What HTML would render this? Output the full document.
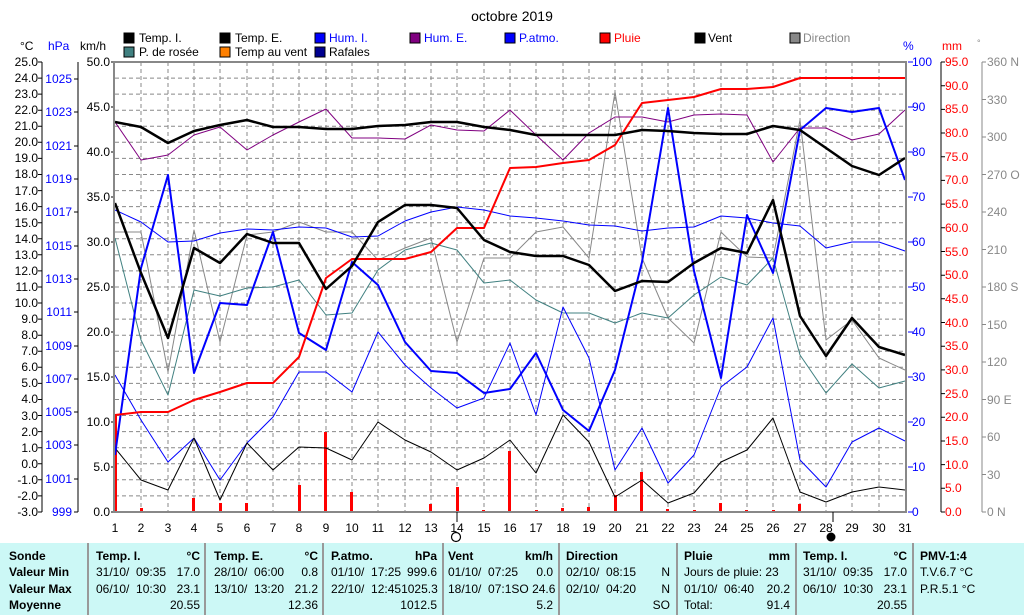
<!DOCTYPE html>
<html><head><meta charset="utf-8">
<style>
html,body{margin:0;padding:0;background:#fff;}
body{width:1024px;height:615px;position:relative;overflow:hidden;font-family:"Liberation Sans",sans-serif;}
svg{position:absolute;left:0;top:0;}
.tbl{position:absolute;left:0;top:543px;width:1024px;height:72px;background:#ccf8f6;}
.col{position:absolute;top:5px;font-size:12px;line-height:16.3px;color:#000;}
.col div{display:flex;justify-content:space-between;white-space:pre;height:16.3px;}
.b{font-weight:bold;}
.sep{position:absolute;top:0;width:2px;height:72px;background:#999;}
</style></head><body>
<svg width="1024" height="543" viewBox="0 0 1024 543" font-family="Liberation Sans, sans-serif" font-size="12">
<text x="512" y="21" text-anchor="middle" font-size="14">octobre 2019</text>
<!-- legend -->
<g font-size="12">
<rect x="124" y="33" width="10" height="10" fill="#000" stroke="#000"/><text x="139" y="42">Temp. I.</text>
<rect x="220" y="33" width="10" height="10" fill="#000" stroke="#000"/><text x="235" y="42">Temp. E.</text>
<rect x="315" y="33" width="10" height="10" fill="#00f" stroke="#000"/><text x="329" y="42" fill="#00f">Hum. I.</text>
<rect x="410" y="33" width="10" height="10" fill="#800080" stroke="#000"/><text x="424" y="42" fill="#00f">Hum. E.</text>
<rect x="505" y="33" width="10" height="10" fill="#00f" stroke="#000"/><text x="519" y="42" fill="#00f">P.atmo.</text>
<rect x="600" y="33" width="10" height="10" fill="#f00" stroke="#000"/><text x="614" y="42" fill="#f00">Pluie</text>
<rect x="695" y="33" width="10" height="10" fill="#000" stroke="#000"/><text x="708" y="42">Vent</text>
<rect x="790" y="33" width="10" height="10" fill="#888" stroke="#000"/><text x="803" y="42" fill="#888">Direction</text>
<rect x="124" y="47" width="10" height="10" fill="#408080" stroke="#000"/><text x="139" y="56">P. de rosée</text>
<rect x="220" y="47" width="10" height="10" fill="#ff8000" stroke="#000"/><text x="235" y="56">Temp au vent</text>
<rect x="315" y="47" width="10" height="10" fill="#000090" stroke="#000"/><text x="329" y="56">Rafales</text>
</g>
<!-- axis titles -->
<text x="20" y="50">°C</text><text x="48" y="50" fill="#00f">hPa</text><text x="80" y="50">km/h</text>
<text x="903" y="50" fill="#00f">%</text><text x="942" y="50" fill="#f00">mm</text><text x="977" y="46" fill="#888" font-size="9">°</text>
<!-- grid -->
<g stroke="#888" stroke-width="1" stroke-dasharray="4,3">
<path d="M141,62V512M168,62V512M194,62V512M220,62V512M247,62V512M273,62V512M299,62V512M326,62V512M352,62V512M378,62V512M405,62V512M431,62V512M457,62V512M484,62V512M510,62V512M536,62V512M563,62V512M589,62V512M615,62V512M642,62V512M668,62V512M694,62V512M721,62V512M747,62V512M773,62V512M800,62V512M826,62V512M852,62V512M879,62V512"/>
<path d="M115,78.1H905M115,94.1H905M115,110.2H905M115,126.3H905M115,142.3H905M115,158.4H905M115,174.5H905M115,190.6H905M115,206.6H905M115,222.7H905M115,238.8H905M115,254.8H905M115,270.9H905M115,287H905M115,303H905M115,319.1H905M115,335.2H905M115,351.3H905M115,367.3H905M115,383.4H905M115,399.5H905M115,415.5H905M115,431.6H905M115,447.7H905M115,463.8H905M115,479.8H905M115,495.9H905"/>
</g>
<!-- left axes -->
<g stroke="#000"><path d="M42,62V512M78,62V512"/></g>
<g text-anchor="end">
<text x="38" y="66">25.0</text><text x="38" y="82">24.0</text><text x="38" y="98">23.0</text><text x="38" y="114">22.0</text><text x="38" y="130">21.0</text><text x="38" y="146">20.0</text><text x="38" y="162">19.0</text><text x="38" y="178">18.0</text><text x="38" y="195">17.0</text><text x="38" y="211">16.0</text><text x="38" y="227">15.0</text><text x="38" y="243">14.0</text><text x="38" y="259">13.0</text><text x="38" y="275">12.0</text><text x="38" y="291">11.0</text><text x="38" y="307">10.0</text><text x="38" y="323">9.0</text><text x="38" y="339">8.0</text><text x="38" y="355">7.0</text><text x="38" y="371">6.0</text><text x="38" y="387">5.0</text><text x="38" y="403">4.0</text><text x="38" y="420">3.0</text><text x="38" y="436">2.0</text><text x="38" y="452">1.0</text><text x="38" y="468">0.0</text><text x="38" y="484">-1.0</text><text x="38" y="500">-2.0</text><text x="38" y="516">-3.0</text>
<g fill="#00f"><text x="72" y="83">1025</text><text x="72" y="116">1023</text><text x="72" y="150">1021</text><text x="72" y="183">1019</text><text x="72" y="216">1017</text><text x="72" y="250">1015</text><text x="72" y="283">1013</text><text x="72" y="316">1011</text><text x="72" y="350">1009</text><text x="72" y="383">1007</text><text x="72" y="416">1005</text><text x="72" y="449">1003</text><text x="72" y="483">1001</text><text x="72" y="516">999</text></g>
<text x="110" y="66">50.0</text><text x="110" y="111">45.0</text><text x="110" y="156">40.0</text><text x="110" y="201">35.0</text><text x="110" y="246">30.0</text><text x="110" y="291">25.0</text><text x="110" y="336">20.0</text><text x="110" y="381">15.0</text><text x="110" y="426">10.0</text><text x="110" y="471">5.0</text><text x="110" y="516">0.0</text>
</g>
<g stroke="#000"><path d="M42,62h-4M42,78.1h-4M42,94.1h-4M42,110.2h-4M42,126.3h-4M42,142.3h-4M42,158.4h-4M42,174.5h-4M42,190.6h-4M42,206.6h-4M42,222.7h-4M42,238.8h-4M42,254.8h-4M42,270.9h-4M42,287h-4M42,303h-4M42,319.1h-4M42,335.2h-4M42,351.3h-4M42,367.3h-4M42,383.4h-4M42,399.5h-4M42,415.5h-4M42,431.6h-4M42,447.7h-4M42,463.8h-4M42,479.8h-4M42,495.9h-4M42,512h-4"/>
<path d="M78,79h-4M78,112h-4M78,146h-4M78,179h-4M78,212h-4M78,246h-4M78,279h-4M78,312h-4M78,346h-4M78,379h-4M78,412h-4M78,445h-4M78,479h-4M78,512h-4"/>
<path d="M115,62h-4M115,107h-4M115,152h-4M115,197h-4M115,242h-4M115,287h-4M115,332h-4M115,377h-4M115,422h-4M115,467h-4M115,512h-4"/></g>
<!-- right axes -->
<g stroke="#00f"><path d="M908,62h5M908,107h5M908,152h5M908,197h5M908,242h5M908,287h5M908,332h5M908,377h5M908,422h5M908,467h5M908,512h5"/></g>
<g fill="#00f"><text x="912" y="66">100</text><text x="912" y="111">90</text><text x="912" y="156">80</text><text x="912" y="201">70</text><text x="912" y="246">60</text><text x="912" y="291">50</text><text x="912" y="336">40</text><text x="912" y="381">30</text><text x="912" y="426">20</text><text x="912" y="471">10</text><text x="912" y="516">0</text></g>
<g stroke="#000"><path d="M941,62V512M941,62h4M941,85.7h4M941,109.4h4M941,133h4M941,156.7h4M941,180.4h4M941,204.1h4M941,227.8h4M941,251.5h4M941,275.2h4M941,298.8h4M941,322.5h4M941,346.2h4M941,369.9h4M941,393.6h4M941,417.3h4M941,441h4M941,464.6h4M941,488.3h4M941,512h4"/></g>
<g fill="#f00"><text x="945" y="66">95.0</text><text x="945" y="90">90.0</text><text x="945" y="113">85.0</text><text x="945" y="137">80.0</text><text x="945" y="161">75.0</text><text x="945" y="184">70.0</text><text x="945" y="208">65.0</text><text x="945" y="232">60.0</text><text x="945" y="256">55.0</text><text x="945" y="279">50.0</text><text x="945" y="303">45.0</text><text x="945" y="327">40.0</text><text x="945" y="350">35.0</text><text x="945" y="374">30.0</text><text x="945" y="398">25.0</text><text x="945" y="421">20.0</text><text x="945" y="445">15.0</text><text x="945" y="469">10.0</text><text x="945" y="492">5.0</text><text x="945" y="516">0.0</text></g>
<g stroke="#888"><path d="M982,62V512M982,62h4M982,99.5h4M982,137h4M982,174.5h4M982,212h4M982,249.5h4M982,287h4M982,324.5h4M982,362h4M982,399.5h4M982,437h4M982,474.5h4M982,512h4"/></g>
<g fill="#888"><text x="987" y="66">360 N</text><text x="987" y="104">330</text><text x="987" y="141">300</text><text x="987" y="179">270 O</text><text x="987" y="216">240</text><text x="987" y="254">210</text><text x="987" y="291">180 S</text><text x="987" y="329">150</text><text x="987" y="366">120</text><text x="987" y="404">90 E</text><text x="987" y="441">60</text><text x="987" y="479">30</text><text x="987" y="516">0 N</text></g>
<!-- rain bars -->
<g fill="#f00">
<rect x="114" y="415" width="3" height="97"/><rect x="140" y="508" width="3" height="4"/><rect x="192" y="498" width="3" height="14"/><rect x="219" y="503" width="3" height="9"/><rect x="245" y="503" width="3" height="9"/><rect x="298" y="485" width="3" height="27"/><rect x="324" y="432" width="3" height="80"/><rect x="350" y="492" width="3" height="20"/><rect x="429" y="504" width="3" height="8"/><rect x="456" y="487" width="3" height="25"/><rect x="482" y="510" width="3" height="2"/><rect x="508" y="451" width="3" height="61"/><rect x="535" y="510" width="3" height="2"/><rect x="561" y="508" width="3" height="4"/><rect x="587" y="507" width="3" height="5"/><rect x="614" y="495" width="3" height="17"/><rect x="640" y="472" width="3" height="40"/><rect x="666" y="509" width="3" height="3"/><rect x="693" y="510" width="3" height="2"/><rect x="719" y="503" width="3" height="9"/><rect x="745" y="510" width="3" height="2"/><rect x="772" y="510" width="3" height="2"/><rect x="798" y="504" width="3" height="8"/>
</g>
<!-- series -->
<g fill="none" stroke-linejoin="round">
<polyline stroke="#888" stroke-width="1" points="115,232 141,232 168,372 194,230 220,342 247,235 273,232 299,222 326,232 352,232 378,260 405,248 431,238 457,342 484,258 510,258 536,232 563,227 589,258 615,92 642,258 668,318 694,343 721,232 747,257 773,258 800,120 826,340 852,320 879,358 905,370"/>
<polyline stroke="#408080" stroke-width="1" points="115,238 141,340 168,395 194,290 220,296 247,288 273,287 299,280 326,315 352,313 378,270 405,250 431,243 457,250 484,283 510,280 536,300 563,313 589,313 615,323 642,313 668,318 694,295 721,277 747,285 773,258 800,355 826,393 852,364 879,388 905,381"/>
<polyline stroke="#800080" stroke-width="1" points="115,122 141,160 168,155 194,135 220,127 247,150 273,135 299,122 326,109 352,138 378,138 405,139 431,125 457,130 484,131 510,110 536,135 563,160 589,133 615,117 642,117 668,122 694,115 721,114 747,115 773,162 800,128 826,128 852,140 879,134 905,110"/>
<polyline stroke="#00f" stroke-width="1" points="115,210 141,222 168,242 194,241 220,233 247,229 273,230 299,227 326,228 352,237 378,236 405,221 431,212 457,207 484,210 510,216 536,218 563,221 589,225 615,226 642,231 668,228 694,227 721,216 747,218 773,223 800,226 826,248 852,242 879,242 905,251"/>
<polyline stroke="#00f" stroke-width="1" points="115,375 141,420 168,462 194,438 220,480 247,443 273,417 299,372 326,372 352,392 378,332 405,365 431,388 457,408 484,398 510,343 536,415 563,307 589,358 615,470 642,428 668,483 694,455 721,387 747,367 773,318 800,460 826,487 852,442 879,428 905,441"/>
<polyline stroke="#000" stroke-width="1" points="115,448 141,480 168,490 194,438 220,500 247,443 273,470 299,447 326,448 352,460 378,422 405,440 431,452 457,470 484,458 510,440 536,473 563,415 589,442 615,497 642,480 668,503 694,493 721,462 747,450 773,418 800,492 826,502 852,492 879,487 905,490"/>
<polyline stroke="#00f" stroke-width="2" points="115,455 141,268 168,175 194,373 220,303 247,305 273,232 299,333 326,350 352,262 378,285 405,342 431,371 457,373 484,393 510,389 536,353 563,410 589,431 615,370 642,262 668,108 694,271 721,378 747,215 773,273 800,130 826,108 852,112 879,108 905,180"/>
<polyline stroke="#f00" stroke-width="2" points="115,415 141,412 168,412 194,400 220,392 247,383 273,383 299,357 326,278 352,259 378,259 405,259 431,252 457,228 484,228 510,168 536,167 563,163 589,160 615,145 642,103 668,100 694,97 721,89 747,89 773,87 800,78 826,78 852,78 879,78 905,78"/>
<polyline stroke="#000" stroke-width="2.5" points="115,203 141,273 168,338 194,248 220,263 247,234 273,243 299,243 326,289 352,266 378,222 405,205 431,205 457,208 484,240 510,252 536,256 563,256 589,265 615,291 642,281 668,282 694,263 721,248 747,253 773,200 800,316 826,356 852,318 879,347 905,355"/>
<polyline stroke="#000" stroke-width="2.5" points="115,122 141,127 168,143 194,131 220,125 247,120 273,127 299,127 326,129 352,129 378,126 405,125 431,122 457,122 484,127 510,130 536,135 563,135 589,135 615,135 642,130 668,131 694,133 721,134 747,134 773,126 800,130 826,148 852,166 879,175 905,158"/>
</g>
<!-- frame -->
<rect x="114" y="62" width="792" height="450" fill="none" stroke="#888" stroke-width="2"/>
<path d="M457,512v10M833,512v10" stroke="#000"/>
<!-- x labels -->
<g text-anchor="middle">
<text x="115" y="532">1</text><text x="141" y="532">2</text><text x="168" y="532">3</text><text x="194" y="532">4</text><text x="220" y="532">5</text><text x="247" y="532">6</text><text x="273" y="532">7</text><text x="299" y="532">8</text><text x="326" y="532">9</text><text x="352" y="532">10</text><text x="378" y="532">11</text><text x="405" y="532">12</text><text x="431" y="532">13</text><text x="457" y="532">14</text><text x="484" y="532">15</text><text x="510" y="532">16</text><text x="536" y="532">17</text><text x="563" y="532">18</text><text x="589" y="532">19</text><text x="615" y="532">20</text><text x="642" y="532">21</text><text x="668" y="532">22</text><text x="694" y="532">23</text><text x="721" y="532">24</text><text x="747" y="532">25</text><text x="773" y="532">26</text><text x="800" y="532">27</text><text x="826" y="532">28</text><text x="852" y="532">29</text><text x="879" y="532">30</text><text x="905" y="532">31</text>
</g>
<circle cx="456" cy="537" r="4.5" fill="#fff" stroke="#000" stroke-width="1.2"/>
<circle cx="831" cy="537" r="4.5" fill="#000"/>
</svg>
<div class="tbl">
<div class="sep" style="left:87px"></div><div class="sep" style="left:204px"></div><div class="sep" style="left:322px"></div><div class="sep" style="left:442px"></div><div class="sep" style="left:558px"></div><div class="sep" style="left:676px"></div><div class="sep" style="left:795px"></div><div class="sep" style="left:912px"></div>
<div class="col b" style="left:9px;width:75px"><div>Sonde</div><div>Valeur Min</div><div>Valeur Max</div><div>Moyenne</div></div>
<div class="col" style="left:96px;width:104px"><div class="b"><span>Temp. I.</span><span>°C</span></div><div><span>31/10/  09:35</span><span>17.0</span></div><div><span>06/10/  10:30</span><span>23.1</span></div><div><span></span><span>20.55</span></div></div>
<div class="col" style="left:214px;width:104px"><div class="b"><span>Temp. E.</span><span>°C</span></div><div><span>28/10/  06:00</span><span>0.8</span></div><div><span>13/10/  13:20</span><span>21.2</span></div><div><span></span><span>12.36</span></div></div>
<div class="col" style="left:331px;width:106px"><div class="b"><span>P.atmo.</span><span>hPa</span></div><div><span>01/10/  17:25</span><span>999.6</span></div><div><span>22/10/  12:45</span><span>1025.3</span></div><div><span></span><span>1012.5</span></div></div>
<div class="col" style="left:448px;width:105px"><div class="b"><span>Vent</span><span>km/h</span></div><div><span>01/10/  07:25</span><span>0.0</span></div><div><span>18/10/  07:1</span><span>SO 24.6</span></div><div><span></span><span>5.2</span></div></div>
<div class="col" style="left:566px;width:104px"><div class="b"><span>Direction</span><span></span></div><div><span>02/10/  08:15</span><span>N</span></div><div><span>02/10/  04:20</span><span>N</span></div><div><span></span><span>SO</span></div></div>
<div class="col" style="left:684px;width:106px"><div class="b"><span>Pluie</span><span>mm</span></div><div><span>Jours de pluie: 23</span><span></span></div><div><span>01/10/  06:40</span><span>20.2</span></div><div><span>Total:</span><span>91.4</span></div></div>
<div class="col" style="left:803px;width:104px"><div class="b"><span>Temp. I.</span><span>°C</span></div><div><span>31/10/  09:35</span><span>17.0</span></div><div><span>06/10/  10:30</span><span>23.1</span></div><div><span></span><span>20.55</span></div></div>
<div class="col" style="left:920px;width:100px"><div class="b"><span>PMV-1:4</span></div><div><span>T.V.6.7 °C</span></div><div><span>P.R.5.1 °C</span></div><div></div></div>
</div>
</body></html>
